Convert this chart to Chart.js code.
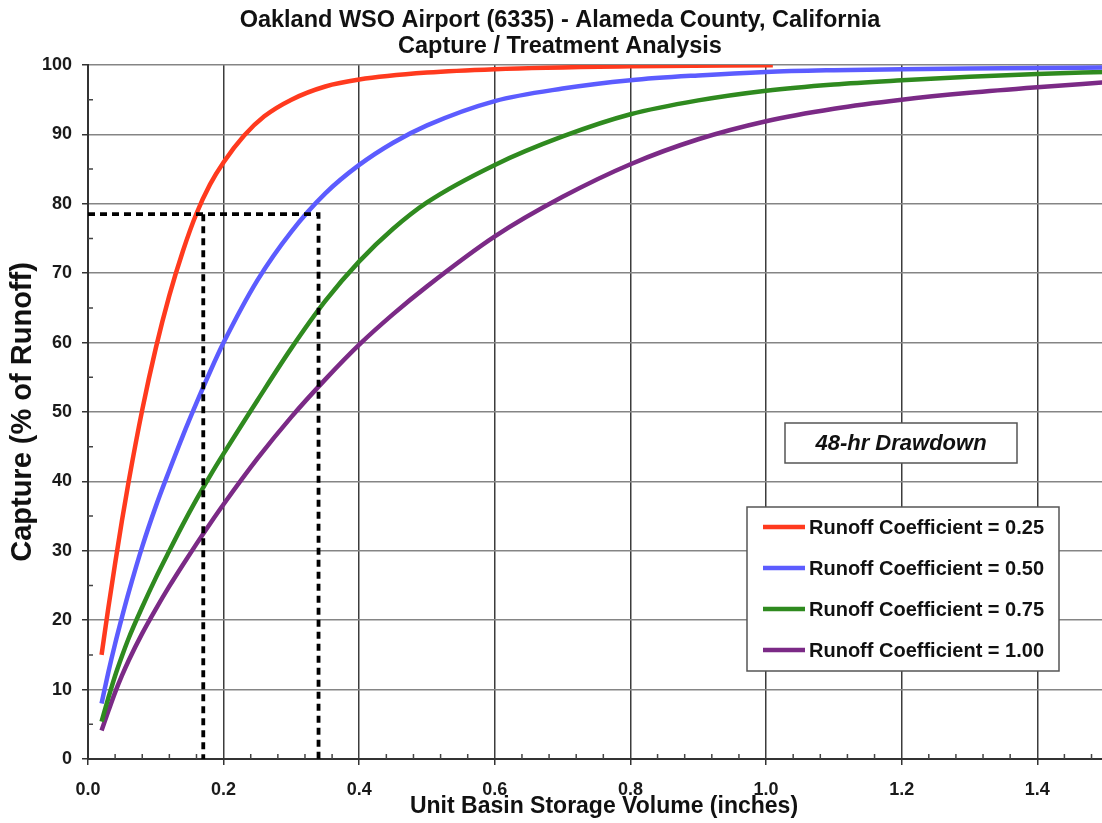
<!DOCTYPE html>
<html>
<head>
<meta charset="utf-8">
<title>Capture / Treatment Analysis</title>
<script src="https://cdn.jsdelivr.net/npm/chart.js@4.4.1/dist/chart.umd.min.js"></script>
<style>
  html, body { margin: 0; padding: 0; background: #fff; overflow: hidden; }
  #wrap { width: 1120px; height: 823px; }
</style>
</head>
<body>
<div id="wrap"><canvas id="capture" width="1120" height="823"></canvas></div>
<script>
// Values (storage in inches, capture in %)
const xRed = [0.02, 0.03, 0.04, 0.05, 0.06, 0.08, 0.10, 0.12, 0.14, 0.16, 0.18, 0.20,
              0.23, 0.26, 0.30, 0.35, 0.40, 0.50, 0.60, 0.80, 1.01];
const capRed = [15, 21.8, 28.2, 34.3, 40, 50.3, 59.2, 66.8, 73.2, 78.6, 82.8, 86,
                89.8, 92.6, 95.0, 96.9, 97.9, 98.9, 99.4, 99.8, 99.95];

const xStorage = [0.02, 0.03, 0.04, 0.05, 0.06, 0.08, 0.10, 0.12, 0.14, 0.16, 0.18, 0.20,
                  0.25, 0.30, 0.35, 0.40, 0.45, 0.50, 0.60, 0.70, 0.80, 0.90, 1.00,
                  1.10, 1.20, 1.30, 1.40, 1.50];
const capBlue = [8, 12.5, 16.6, 20.4, 24, 30.6, 36.4, 41.6, 46.6, 51.3, 55.8, 60,
                 69.0, 76.0, 81.5, 85.6, 88.8, 91.3, 94.8, 96.6, 97.8, 98.5, 99.0,
                 99.25, 99.4, 99.5, 99.55, 99.65];
const capGreen = [5.4, 8.8, 12, 14.8, 17.4, 21.9, 26.1, 30, 33.8, 37.4, 40.8, 44,
                  51.7, 59.2, 66, 71.7, 76.4, 80.2, 85.6, 89.7, 92.9, 94.9, 96.3,
                  97.2, 97.8, 98.3, 98.7, 99.0];
const capPurple = [4.1, 6.9, 9.6, 12, 14.2, 18.1, 21.6, 24.9, 28, 31, 33.9, 36.7,
                   43.3, 49.3, 54.7, 59.7, 64.1, 68.1, 75.3, 81, 85.7, 89.3, 91.9,
                   93.7, 95.0, 96.0, 96.8, 97.5];

const seriesLabels = ['Runoff Coefficient = 0.25', 'Runoff Coefficient = 0.50',
                      'Runoff Coefficient = 0.75', 'Runoff Coefficient = 1.00'];
const seriesColors = ['#ff3a1e', '#5c5cff', '#2f8a1f', '#7b2a86'];

// dashed guide lines
const guideAX = [0, 0.34, 0.34];
const guideAY = [78.5, 78.5, 0];
const guideBX = [0.17, 0.17];
const guideBY = [78.5, 0];

// axes
const xTicks = [0, 0.2, 0.4, 0.6, 0.8, 1.0, 1.2, 1.4];
const xMinorTicks = [0.04, 0.08, 0.12, 0.16, 0.24, 0.28, 0.32, 0.36, 0.44, 0.48, 0.52, 0.56,
                     0.64, 0.68, 0.72, 0.76, 0.84, 0.88, 0.92, 0.96, 1.04, 1.08, 1.12, 1.16,
                     1.24, 1.28, 1.32, 1.36, 1.44, 1.48];
const yTicks = [0, 10, 20, 30, 40, 50, 60, 70, 80, 90, 100];
const yMinorTicks = [5, 15, 25, 35, 45, 55, 65, 75, 85, 95];

const titleLines = ['Oakland WSO Airport (6335) - Alameda County, California',
                    'Capture / Treatment Analysis'];
const noteText = '48-hr Drawdown';

const FONT = "'Liberation Sans', Arial, sans-serif";

function toPoints(xs, ys) {
    return xs.map((x, i) => ({ x: x, y: ys[i] }));
}

// small inward ticks between the labelled ones
const minorTicks = {
    id: 'minorTicks',
    beforeDatasetsDraw(chart) {
        const { ctx, chartArea, scales } = chart;
        ctx.save();
        ctx.strokeStyle = '#444';
        ctx.lineWidth = 1.5;
        ctx.beginPath();
        xMinorTicks.forEach(v => {
            const px = scales.x.getPixelForValue(v);
            ctx.moveTo(px, chartArea.bottom);
            ctx.lineTo(px, chartArea.bottom - 5);
        });
        yMinorTicks.forEach(v => {
            const py = scales.y.getPixelForValue(v);
            ctx.moveTo(chartArea.left, py);
            ctx.lineTo(chartArea.left + 5, py);
        });
        ctx.stroke();
        ctx.restore();
    }
};

// boxed legend and the drawdown note inside the plot
const boxLegend = {
    id: 'boxLegend',
    afterDraw(chart) {
        const ctx = chart.ctx;
        ctx.save();
        ctx.fillStyle = '#fff';
        ctx.strokeStyle = '#555';
        ctx.lineWidth = 1.5;

        // note
        ctx.fillRect(785, 423, 232, 40);
        ctx.strokeRect(785, 423, 232, 40);
        ctx.fillStyle = '#111';
        ctx.font = 'italic bold 22px ' + FONT;
        ctx.textAlign = 'center';
        ctx.textBaseline = 'middle';
        ctx.fillText(noteText, 901, 444);

        // legend
        ctx.fillStyle = '#fff';
        ctx.fillRect(747, 507, 312, 164);
        ctx.strokeRect(747, 507, 312, 164);
        ctx.font = 'bold 20px ' + FONT;
        ctx.textAlign = 'left';
        seriesLabels.forEach((label, i) => {
            const cy = 527 + i * 41;
            ctx.strokeStyle = seriesColors[i];
            ctx.lineWidth = 4.5;
            ctx.beginPath();
            ctx.moveTo(763, cy);
            ctx.lineTo(805, cy);
            ctx.stroke();
            ctx.fillStyle = '#111';
            ctx.fillText(label, 809, cy + 1);
        });
        ctx.restore();
    }
};

const curveStyle = {
    borderWidth: 4.5,
    pointRadius: 0,
    fill: false,
    cubicInterpolationMode: 'monotone'
};

const guideStyle = {
    borderColor: '#000',
    borderWidth: 3.8,
    borderDash: [7, 5],
    pointRadius: 0,
    fill: false,
    tension: 0
};

const captureData = {
    datasets: [
        { ...guideStyle, label: 'guide A', data: toPoints(guideAX, guideAY) },
        { ...guideStyle, label: 'guide B', data: toPoints(guideBX, guideBY) },
        { ...curveStyle, label: seriesLabels[0], borderColor: seriesColors[0], data: toPoints(xRed, capRed) },
        { ...curveStyle, label: seriesLabels[1], borderColor: seriesColors[1], data: toPoints(xStorage, capBlue) },
        { ...curveStyle, label: seriesLabels[2], borderColor: seriesColors[2], data: toPoints(xStorage, capGreen) },
        { ...curveStyle, label: seriesLabels[3], borderColor: seriesColors[3], data: toPoints(xStorage, capPurple) }
    ]
};

const captureConfig = {
    type: 'line',
    data: captureData,
    plugins: [minorTicks, boxLegend],
    options: {
        responsive: false,
        animation: false,
        layout: { padding: 0 },
        plugins: {
            legend: { display: false },
            tooltip: { enabled: false },
            title: {
                display: true,
                text: titleLines,
                color: '#111',
                font: { family: FONT, size: 23.5, weight: 'bold', lineHeight: 1.106 },
                padding: { top: 8, bottom: 5 }
            }
        },
        scales: {
            x: {
                type: 'linear',
                min: 0,
                max: 1.522,
                afterBuildTicks: scale => { scale.ticks = xTicks.map(v => ({ value: v })); },
                afterFit: scale => { scale.height = 64; },
                ticks: {
                    color: '#1a1a1a',
                    padding: 14,
                    maxRotation: 0,
                    font: { family: FONT, size: 18, weight: 'bold' },
                    callback: v => Number(v).toFixed(1)
                },
                grid: { color: '#3c3c3c', lineWidth: 1.5, tickLength: 6, tickColor: '#333' },
                border: { color: '#333', width: 2 },
                title: {
                    display: true,
                    text: 'Unit Basin Storage Volume (inches)',
                    color: '#111',
                    font: { family: FONT, size: 23, weight: 'bold', lineHeight: 1 },
                    padding: { top: 0, bottom: 5 }
                }
            },
            y: {
                min: 0,
                max: 100,
                afterBuildTicks: scale => { scale.ticks = yTicks.map(v => ({ value: v })); },
                afterFit: scale => { scale.width = 88; },
                ticks: {
                    color: '#1a1a1a',
                    padding: 10,
                    font: { family: FONT, size: 18, weight: 'bold' }
                },
                grid: { color: '#858585', lineWidth: 1.5, tickLength: 6, tickColor: '#333' },
                border: { color: '#333', width: 2 },
                title: {
                    display: true,
                    text: 'Capture (% of Runoff)',
                    color: '#111',
                    font: { family: FONT, size: 29, weight: 'bold', lineHeight: 1 },
                    padding: { top: 8, bottom: 0 }
                }
            }
        }
    }
};

const captureCtx = document.getElementById('capture').getContext('2d');
new Chart(captureCtx, captureConfig);
</script>
</body>
</html>
